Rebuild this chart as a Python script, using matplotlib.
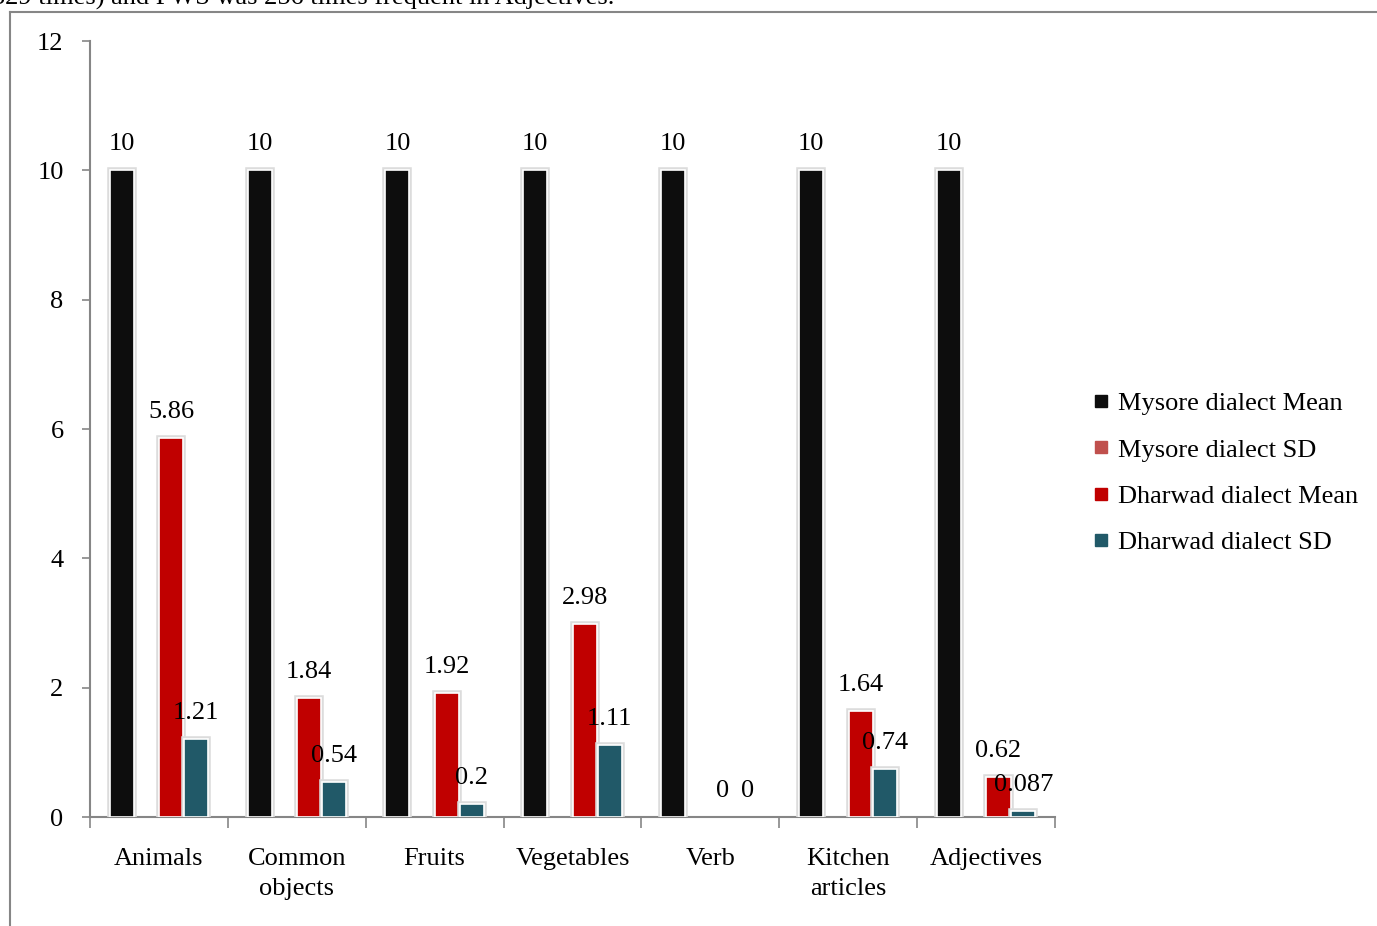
import matplotlib.pyplot as plt
import matplotlib.patheffects as pe
from matplotlib.lines import Line2D
import numpy as np

categories = ['Animals', 'Common\nobjects', 'Fruits', 'Vegetables', 'Verb', 'Kitchen\narticles', 'Adjectives']
mysore_mean = [10, 10, 10, 10, 10, 10, 10]
mysore_sd = [0, 0, 0, 0, 0, 0, 0]
dharwad_mean = [5.86, 1.84, 1.92, 2.98, 0, 1.64, 0.62]
dharwad_sd = [1.21, 0.54, 0.2, 1.11, 0, 0.74, 0.087]

series_names = ['Mysore dialect Mean', 'Mysore dialect SD', 'Dharwad dialect Mean', 'Dharwad dialect SD']
series_colors = ['#0d0d0d', '#c0504d', '#c00000', '#215968']
show_labels = [True, False, True, True]

plt.rcParams['font.family'] = ['Liberation Serif', 'DejaVu Serif']
fs = 19
grey = '#868686'

fig = plt.figure(figsize=(13.77, 9.26), dpi=100)
ax = fig.add_axes([90 / 1377, 1 - 817 / 926, 965 / 1377, 776 / 926])

x = np.arange(len(categories))
w = 0.18
all_series = [mysore_mean, mysore_sd, dharwad_mean, dharwad_sd]
for i, (vals, col) in enumerate(zip(all_series, series_colors)):
    pos = x + (i - 1.5) * w
    bars = ax.bar(pos, vals, width=w * 0.97, color=col, edgecolor='white', linewidth=1.2, zorder=3)
    for b, v in zip(bars, vals):
        if v > 0:
            b.set_path_effects([pe.withStroke(linewidth=4, foreground='#dcdcdc')])
        else:
            b.set_linewidth(0)
    if show_labels[i]:
        for p, v in zip(pos, vals):
            ax.annotate(f'{v:g}', xy=(p, v), xytext=(0, 26), textcoords='offset pixels',
                        ha='center', va='center', fontsize=fs, zorder=5)

ax.set_xlim(-0.5, len(categories) - 0.5)
ax.set_ylim(0, 12)
ax.set_yticks(range(0, 13, 2))
ax.tick_params(axis='y', labelsize=fs, color=grey, length=6, width=1.2, pad=13)

ax.set_xticks(np.arange(len(categories) + 1) - 0.5)
ax.set_xticklabels([])
ax.set_xticks(x, minor=True)
ax.set_xticklabels(categories, minor=True, fontsize=fs, linespacing=1.45)
ax.tick_params(axis='x', which='major', color=grey, length=8, width=1.2)
ax.tick_params(axis='x', which='minor', length=0, pad=22.5)

for s in ['top', 'right']:
    ax.spines[s].set_visible(False)
for s in ['left', 'bottom']:
    ax.spines[s].set_color(grey)
    ax.spines[s].set_linewidth(1.5)

handles = [Line2D([], [], marker='s', linestyle='none', markersize=8, color=c) for c in series_colors]
fig.legend(handles, series_names, loc='center left', bbox_to_anchor=(1093 / 1377, 1 - 473 / 926),
           frameon=False, fontsize=fs, handlelength=0.6, handletextpad=0.35, labelspacing=0.87,
           borderpad=0, borderaxespad=0)

# frame of the embedded chart and the clipped sentence above it
fig.add_artist(Line2D([10 / 1377, 10 / 1377], [0, 1 - 12 / 926], color=grey, linewidth=1.5, transform=fig.transFigure))
fig.add_artist(Line2D([10 / 1377, 1], [1 - 12 / 926, 1 - 12 / 926], color=grey, linewidth=1.5, transform=fig.transFigure))
fig.text(-8 / 1377, 1 + 2 / 926, '329 times) and PWS was 256 times frequent in Adjectives.', fontsize=fs,
         ha='left', va='center')

fig.savefig('out.png', dpi=100)
